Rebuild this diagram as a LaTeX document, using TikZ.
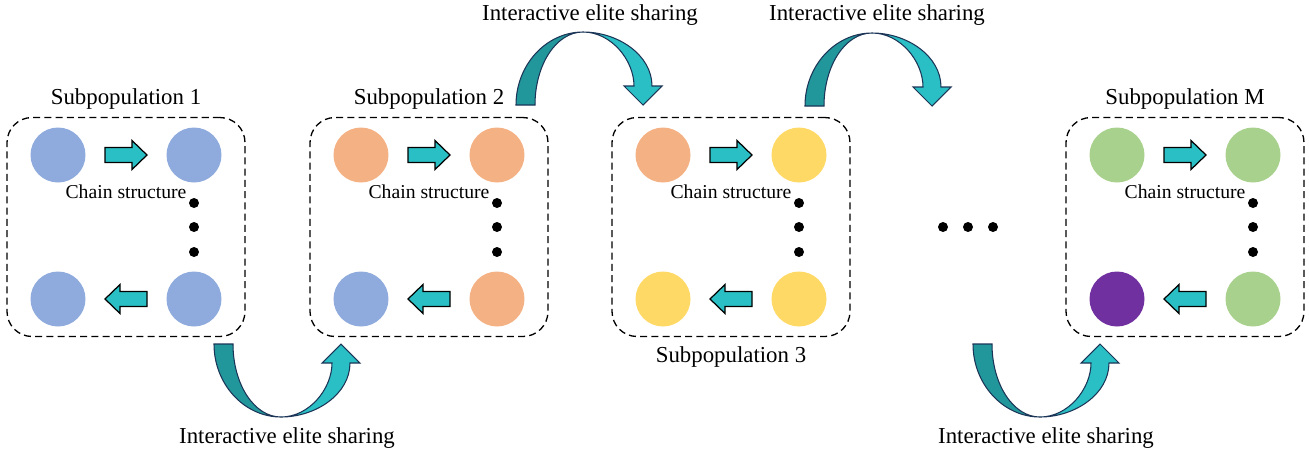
\documentclass[tikz,border=0pt]{standalone}
\usepackage{fontspec}
\setmainfont{Liberation Serif}
\usetikzlibrary{positioning, fit, calc}

\definecolor{indblue}{HTML}{8FAADC}
\definecolor{indorange}{HTML}{F4B183}
\definecolor{indyellow}{HTML}{FFD966}
\definecolor{indgreen}{HTML}{A9D18E}
\definecolor{indpurple}{HTML}{7030A0}
\definecolor{tealdark}{HTML}{21979C}
\definecolor{teallight}{HTML}{2ABFC4}
\definecolor{navyline}{HTML}{1C3557}

% block arrow between two individuals, #2 = 1 (right) or -1 (left)
\newcommand{\chainarrow}[2]{%
\begin{scope}[shift={(#1)}, xscale=#2]
\draw[blockarr] (-21,-7.5) -- (6,-7.5) -- (6,-14.5) -- (21,0) -- (6,14.5) -- (6,7.5) -- (-21,7.5) -- cycle;
\end{scope}}

% curved arrow for elite sharing, #2 = 1 (bends down) or -1 (bends up)
\newcommand{\sharearrow}[2]{%
\begin{scope}[shift={(#1)}, yscale=#2]
\draw[sharedark] (0,0) -- (19,0) .. controls (19,40) and (40,73) .. (67,73) .. controls (30,73) and (0,40) .. (0,0) -- cycle;
\draw[sharelight] (67,73) .. controls (102,73) and (136,50) .. (136,19) -- (146,19) -- (127,0) -- (108,19) -- (118,19) .. controls (118,45) and (95,73) .. (67,73) -- cycle;
\end{scope}}

\begin{document}
\begin{tikzpicture}[x=0.02cm, y=-0.02cm,
	indiv/.style={circle, minimum size=1.1cm, inner sep=0, outer sep=0},
	dot/.style={circle, fill=black, minimum size=0.2cm, inner sep=0},
	popbox/.style={draw, dashed, dash pattern=on 4pt off 2.4pt, line width=0.75pt, rounded corners=0.5cm, inner xsep=0.47cm, inner ysep=0.2cm},
	poplab/.style={font=\fontsize{13}{15}\selectfont},
	chainlab/.style={font=\fontsize{11.2}{13}\selectfont, inner sep=0},
	blockarr/.style={draw=black, fill=teallight, line width=0.7pt},
	sharedark/.style={draw=navyline, fill=tealdark, line width=0.6pt},
	sharelight/.style={draw=navyline, fill=teallight, line width=0.6pt}]
\useasboundingbox (0,0) rectangle (1309,458);

% subpopulations
\foreach \k/\x/\ca/\cb/\cc/\cd in {1/58/indblue/indblue/indblue/indblue,
	2/361/indorange/indorange/indorange/indblue,
	3/663/indorange/indyellow/indyellow/indyellow,
	M/1117/indgreen/indgreen/indgreen/indpurple}{
\node[indiv, fill=\ca] (tl\k) at (\x, 155) {};
\node[indiv, fill=\cb] (tr\k) at ({\x+136}, 155) {};
\node[indiv, fill=\cc] (br\k) at ({\x+136}, 299) {};
\node[indiv, fill=\cd] (bl\k) at (\x, 299) {};
\node[dot] at ({\x+136}, 203) {};
\node[dot] at ({\x+136}, 227) {};
\node[dot] at ({\x+136}, 252) {};
\node[chainlab] (ch\k) at ({\x+68}, 192) {Chain structure};
\chainarrow{$(tl\k)!0.5!(tr\k)$}{1}
\chainarrow{$(bl\k)!0.5!(br\k)$}{-1}
\node[popbox, fit=(tl\k)(tr\k)(br\k)(bl\k)] (box\k) {};
}

\node[poplab, above=1pt of box1] (lab1) {Subpopulation 1};
\node[poplab, above=1pt of box2] (lab2) {Subpopulation 2};
\node[poplab, below=2pt of box3] (lab3) {Subpopulation 3};
\node[poplab, above=1pt of boxM] (labM) {Subpopulation M};

% gap between subpopulation 3 and M
\node[dot] (gap1) at (943, 227) {};
\node[dot] (gap2) at (968, 227) {};
\node[dot] (gap3) at (993, 227) {};

% elite sharing between neighbours
\coordinate (s12) at (214, 344);
\coordinate (s23) at (516, 105);
\coordinate (s34) at (805, 106);
\coordinate (s4M) at (973, 344);
\sharearrow{s12}{1}
\sharearrow{s23}{-1}
\sharearrow{s34}{-1}
\sharearrow{s4M}{1}
\node[poplab] (sh12) at (287, 438) {Interactive elite sharing};
\node[poplab] (sh23) at (590, 15) {Interactive elite sharing};
\node[poplab] (sh34) at (877, 15) {Interactive elite sharing};
\node[poplab] (sh4M) at (1046, 438) {Interactive elite sharing};
\end{tikzpicture}
\end{document}
